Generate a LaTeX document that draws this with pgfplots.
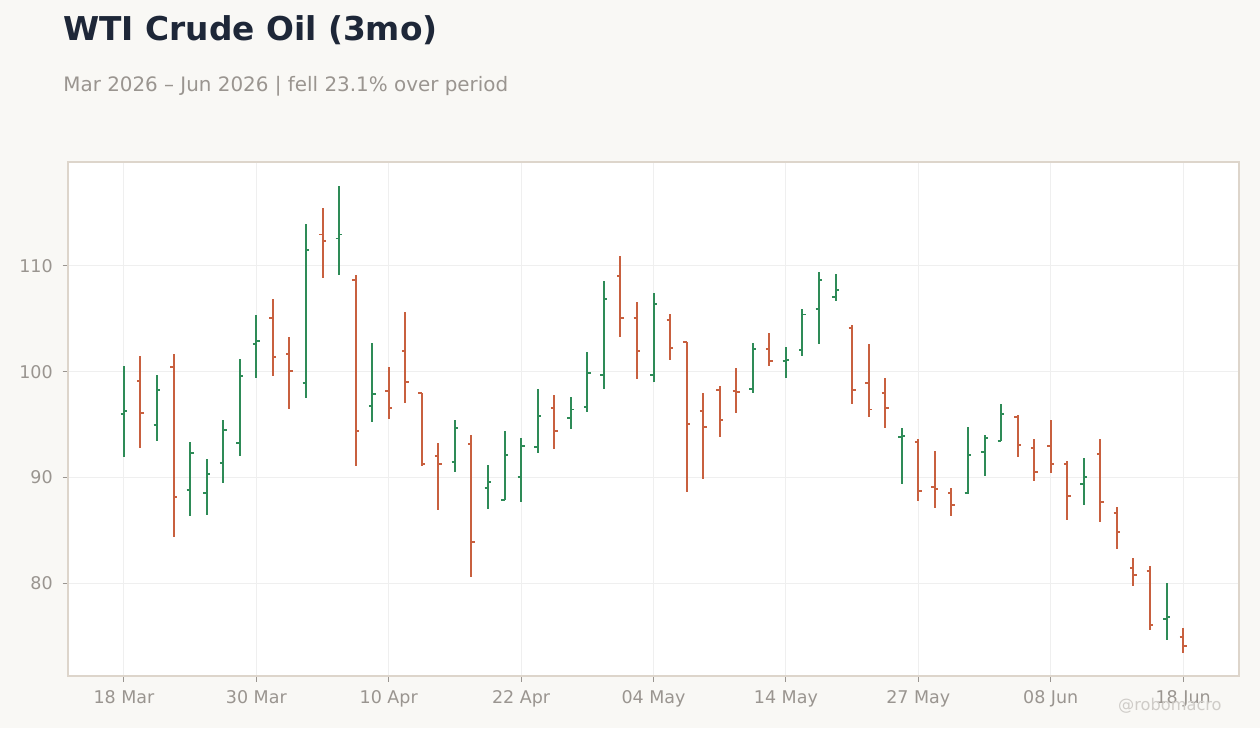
\documentclass[border=0pt]{standalone}
\usepackage{fontspec}
\setmainfont{DejaVu Sans}
\usepackage{pgfplots}
\usepackage{pgfplotstable}
\pgfplotsset{compat=1.18}

\definecolor{bgpage}{HTML}{F9F8F5}
\definecolor{upcol}{HTML}{2E8B57}
\definecolor{dncol}{HTML}{C8603F}
\definecolor{titlecol}{HTML}{1E2738}
\definecolor{subcol}{HTML}{9A9590}
\definecolor{spinecol}{HTML}{DDD5CB}
\definecolor{gridcol}{HTML}{EFEFEF}
\definecolor{markcol}{HTML}{CFCCC8}

% open tick to the left, close tick to the right
\pgfdeclareplotmark{ohlcopen}{%
  \pgfpathmoveto{\pgfqpoint{-1.7bp}{0pt}}%
  \pgfpathlineto{\pgfqpoint{0pt}{0pt}}%
  \pgfusepathqstroke}
\pgfdeclareplotmark{ohlcclose}{%
  \pgfpathmoveto{\pgfqpoint{0pt}{0pt}}%
  \pgfpathlineto{\pgfqpoint{1.7bp}{0pt}}%
  \pgfusepathqstroke}
\pgfdeclareplotmark{nothing}{}

% trading-day index, open, high, low, close
\pgfplotstableread{
x  o      h      l      c
0  96.02  100.54 91.95  96.31
2  94.98  99.68  93.47  98.29
4  88.83  93.34  86.37  92.33
5  88.55  91.74  86.47  90.35
6  91.39  95.43  89.49  94.51
7  93.28  101.20 92.05  99.62
8  102.65 105.36 99.43  102.93
11 98.96  113.97 97.54  111.54
13 112.60 117.57 109.18 112.97
15 96.78  102.71 95.27  97.92
20 91.48  95.43  90.54  94.70
22 89.02  91.17  87.03  89.59
23 87.88  94.39  87.83  92.14
24 90.06  93.69  87.67  93.00
25 92.90  98.36  92.34  95.84
27 95.65  97.60  94.60  96.41
28 96.69  101.86 96.22  99.90
29 99.71  108.58 98.39  106.91
32 99.71  107.44 98.99  106.43
38 98.39  102.71 98.01  102.17
40 101.04 102.33 99.43  101.14
41 102.08 105.93 101.51 105.40
42 105.96 109.43 102.65 108.70
43 107.10 109.24 106.72 107.76
47 93.85  94.67  89.40  93.94
51 88.55  94.76  88.45  92.14
52 92.43  94.01  90.16  93.75
53 93.47  96.94  93.47  96.02
58 89.40  91.83  87.41  90.06
63 76.59  80.00  74.64  76.81
}\upbars

\pgfplotstableread{
x  o      h      l      c
1  99.15  101.48 92.81  96.12
3  100.47 101.67 84.38  88.17
9  105.11 106.88 99.62  101.42
10 101.70 103.28 96.50  100.09
12 112.97 115.49 108.90 112.37
14 108.70 109.12 91.10  94.41
16 98.20  100.44 95.55  96.59
17 101.99 105.65 97.07  99.05
18 98.01  98.01  91.10  91.26
19 92.05  93.25  86.94  91.26
21 93.18  94.01  80.60  83.91
26 96.59  97.79  92.72  94.41
30 109.05 110.95 103.31 105.08
31 105.11 106.59 99.33  101.99
33 104.89 105.46 101.14 102.24
34 102.78 102.78 88.64  95.08
35 96.28  97.98  89.87  94.80
36 98.29  98.64  93.85  95.46
37 98.20  100.35 96.12  98.10
39 102.17 103.66 100.57 101.04
44 104.16 104.39 96.97  98.29
45 98.96  102.62 95.74  96.41
46 98.01  99.40  94.70  96.59
48 93.38  93.63  87.79  88.74
49 89.12  92.49  87.13  88.90
50 88.55  88.99  86.37  87.41
54 95.74  95.90  91.96  93.09
55 92.81  93.63  89.68  90.54
56 92.99  95.43  90.44  91.29
57 91.29  91.55  85.99  88.26
59 92.24  93.63  85.80  87.70
60 86.66  87.19  83.25  84.86
61 81.45  82.37  79.75  80.79
62 81.17  81.61  75.58  76.03
64 74.92  75.74  73.40  74.07
}\downbars

\begin{document}
\begin{tikzpicture}[x=0.5bp,y=0.5bp]
\fill[bgpage] (0,0) rectangle (1260,728);
\useasboundingbox (0,0) rectangle (1260,728);

\node[anchor=base west, inner sep=0pt, text=titlecol,
      font=\fontsize{16.4bp}{18bp}\selectfont\bfseries] at (63,687.3) {WTI Crude Oil (3mo)};
\node[anchor=base west, inner sep=0pt, text=subcol,
      font=\fontsize{9.95bp}{11bp}\selectfont] at (63,636.3) {Mar 2026 – Jun 2026 | fell 23.1\% over period};

\begin{axis}[
    at={(34bp,26bp)}, anchor=south west,
    scale only axis, width=585.5bp, height=257bp,
    xmin=-3.38, xmax=67.38, ymin=71.2, ymax=119.84,
    axis background/.style={fill=white},
    axis line style={spinecol, line width=0.6bp},
    xtick={0,8,...,64},
    xticklabels={18 Mar,30 Mar,10 Apr,22 Apr,04 May,14 May,27 May,08 Jun,18 Jun},
    ytick={80,90,100,110},
    tick pos=left, tick align=outside,
    major tick length=2.75bp,
    tick style={subcol, line width=0.5bp},
    grid=major, major grid style={gridcol, line width=0.5bp},
    ticklabel style={font=\fontsize{8.75bp}{10bp}\selectfont, text=subcol},
    /pgf/number format/assume math mode=true,
    yticklabel style={inner sep=0pt, xshift=-4.7bp},
    xticklabel style={inner sep=0pt, yshift=-4.5bp},
    clip=false,
]
% high-low ranges
\addplot[upcol, only marks, mark=nothing,
    error bars/.cd, y dir=plus, y explicit, error mark=none,
    error bar style={line width=1bp, draw=upcol}]
    table[x=x, y=l, y error plus expr=\thisrow{h}-\thisrow{l}] {\upbars};
\addplot[dncol, only marks, mark=nothing,
    error bars/.cd, y dir=plus, y explicit, error mark=none,
    error bar style={line width=1bp, draw=dncol}]
    table[x=x, y=l, y error plus expr=\thisrow{h}-\thisrow{l}] {\downbars};
% open and close ticks
\addplot[upcol, only marks, mark=ohlcopen, mark options={line width=0.9bp}] table[x=x, y=o] {\upbars};
\addplot[upcol, only marks, mark=ohlcclose, mark options={line width=0.9bp}] table[x=x, y=c] {\upbars};
\addplot[dncol, only marks, mark=ohlcopen, mark options={line width=0.9bp}] table[x=x, y=o] {\downbars};
\addplot[dncol, only marks, mark=ohlcclose, mark options={line width=0.9bp}] table[x=x, y=c] {\downbars};
\end{axis}

\node[anchor=base east, inner sep=0pt, text=markcol,
      font=\fontsize{8.1bp}{10bp}\selectfont] at (1222,18) {@robomacro};
\end{tikzpicture}
\end{document}
